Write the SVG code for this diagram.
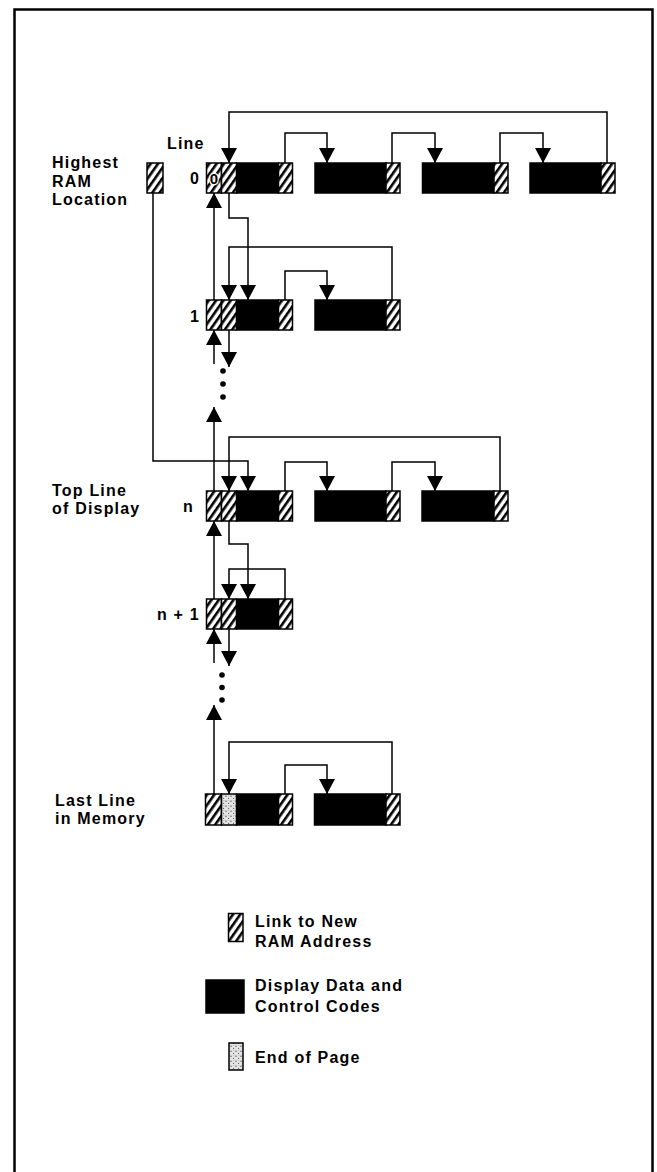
<svg xmlns="http://www.w3.org/2000/svg" width="657" height="1172" viewBox="0 0 657 1172">
<style>
.lbl{font-family:"Liberation Sans",Arial,Helvetica,sans-serif;font-weight:bold;font-size:16px;letter-spacing:1.2px;fill:#000}
.con{fill:none;stroke:#000;stroke-width:1.5;marker-end:url(#ah)}
.ln{fill:none;stroke:#000;stroke-width:1.5}
.hat{fill:url(#hatch);stroke:#000;stroke-width:1.5}
.blk{fill:#000;stroke:#000;stroke-width:1.5}
.dot{fill:url(#stip);stroke:#000;stroke-width:1.5}
</style>
<defs>
<pattern id="hatch" patternUnits="userSpaceOnUse" width="6" height="6" patternTransform="rotate(35)">
<rect width="6" height="6" fill="#fff"/>
<rect width="2.6" height="6" fill="#000"/>
</pattern>
<pattern id="stip" patternUnits="userSpaceOnUse" width="5" height="5">
<rect width="5" height="5" fill="#e4e4e4"/>
<circle cx="1" cy="1.2" r="0.6" fill="#333"/>
<circle cx="3.6" cy="3.4" r="0.55" fill="#555"/>
<circle cx="3.9" cy="0.6" r="0.4" fill="#666"/>
</pattern>
<marker id="ah" viewBox="0 0 15 16" refX="15" refY="8" markerWidth="15" markerHeight="16" markerUnits="userSpaceOnUse" orient="auto">
<path d="M0,0 L15,8 L0,16 z" fill="#000"/>
</marker>
</defs>
<rect x="14.5" y="9.5" width="638" height="1200" fill="none" stroke="#000" stroke-width="2.5"/>

<g id="connectors">
<!-- line 0 -->
<path class="con" d="M607,163 V112 H229 V163"/>
<path class="con" d="M285,163 V133 H327 V163"/>
<path class="con" d="M392,163 V133 H435 V163"/>
<path class="con" d="M500,163 V133 H543 V163"/>
<path class="con" d="M229,193 V218 H248 V300"/>
<path class="con" d="M214,300 V193"/>
<!-- line 1 -->
<path class="con" d="M392,300 V247 H229 V300"/>
<path class="con" d="M285,300 V271 H327 V300"/>
<path class="con" d="M214,364 V330"/>
<path class="con" d="M229,330 V367"/>
<path class="con" d="M214,491 V407"/>
<!-- highest RAM -->
<path class="con" d="M153,193 V461 H248 V491"/>
<!-- line n -->
<path class="con" d="M500,491 V437 H229 V491"/>
<path class="con" d="M285,491 V462 H327 V491"/>
<path class="con" d="M392,491 V462 H435 V491"/>
<path class="con" d="M214,599 V521"/>
<path class="con" d="M229,521 V544 H248 V599"/>
<!-- line n+1 -->
<path class="con" d="M285,599 V569 H229 V599"/>
<path class="con" d="M214,663 V629"/>
<path class="con" d="M229,629 V666"/>
<path class="con" d="M214,794 V705"/>
<!-- last line -->
<path class="con" d="M392,794 V742 H229 V794"/>
<path class="con" d="M285,794 V765 H327 V794"/>
<!-- dots -->
<circle cx="223" cy="371" r="2.8"/>
<circle cx="223" cy="384" r="2.8"/>
<circle cx="223" cy="397" r="2.8"/>
<circle cx="222" cy="675" r="2.8"/>
<circle cx="222" cy="687.5" r="2.8"/>
<circle cx="222" cy="700" r="2.8"/>
</g>

<g id="highestRAM">
<rect class="hat" x="147" y="163" width="16" height="30"/>
</g>

<g id="line0">
<rect class="blk" x="236.5" y="163" width="42" height="30"/>
<rect class="hat" x="206.5" y="163" width="15" height="30"/>
<rect class="hat" x="221.5" y="163" width="15" height="30"/>
<rect class="hat" x="278.5" y="163" width="14" height="30"/>
<text x="214" y="184" text-anchor="middle" class="lbl" style="font-size:15px;letter-spacing:0;stroke:#fff;stroke-width:2.5;paint-order:stroke">0</text>
<rect class="blk" x="315" y="163" width="71" height="30"/>
<rect class="hat" x="386" y="163" width="14" height="30"/>
<rect class="blk" x="422.5" y="163" width="71.5" height="30"/>
<rect class="hat" x="494" y="163" width="14" height="30"/>
<rect class="blk" x="530" y="163" width="71" height="30"/>
<rect class="hat" x="601" y="163" width="14" height="30"/>
</g>

<g id="line1">
<rect class="blk" x="236.5" y="300" width="42" height="30"/>
<rect class="hat" x="206.5" y="300" width="15" height="30"/>
<rect class="hat" x="221.5" y="300" width="15" height="30"/>
<rect class="hat" x="278.5" y="300" width="14" height="30"/>
<rect class="blk" x="315" y="300" width="71" height="30"/>
<rect class="hat" x="386" y="300" width="14" height="30"/>
</g>

<g id="lineN">
<rect class="blk" x="236.5" y="491" width="42" height="30"/>
<rect class="hat" x="206.5" y="491" width="15" height="30"/>
<rect class="hat" x="221.5" y="491" width="15" height="30"/>
<rect class="hat" x="278.5" y="491" width="14" height="30"/>
<rect class="blk" x="315" y="491" width="71" height="30"/>
<rect class="hat" x="386" y="491" width="14" height="30"/>
<rect class="blk" x="422" y="491" width="72" height="30"/>
<rect class="hat" x="494" y="491" width="14" height="30"/>
</g>

<g id="lineN1">
<rect class="blk" x="236.5" y="599" width="42" height="30"/>
<rect class="hat" x="206.5" y="599" width="15" height="30"/>
<rect class="hat" x="221.5" y="599" width="15" height="30"/>
<rect class="hat" x="278.5" y="599" width="14" height="30"/>
</g>

<g id="lastLine">
<rect class="blk" x="236.5" y="794" width="42" height="31"/>
<rect class="hat" x="205.5" y="794" width="16" height="31"/>
<rect class="dot" x="221.5" y="794" width="15" height="31"/>
<rect class="hat" x="278.5" y="794" width="14" height="31"/>
<rect class="blk" x="314.5" y="794" width="71.5" height="31"/>
<rect class="hat" x="386" y="794" width="14" height="31"/>
</g>

<g id="labels">
<text class="lbl" x="52" y="168">Highest</text>
<text class="lbl" x="52" y="186.5">RAM</text>
<text class="lbl" x="52" y="205">Location</text>
<text class="lbl" x="167" y="149">Line</text>
<text class="lbl" x="190" y="184">0</text>
<text class="lbl" x="190" y="322">1</text>
<text class="lbl" x="52" y="496">Top Line</text>
<text class="lbl" x="52" y="514">of Display</text>
<text class="lbl" x="183" y="512">n</text>
<text class="lbl" x="157" y="620">n + 1</text>
<text class="lbl" x="55" y="806">Last Line</text>
<text class="lbl" x="55" y="823.5">in Memory</text>
</g>

<g id="legend">
<rect class="hat" x="228.5" y="913.5" width="14.5" height="28"/>
<text class="lbl" x="255" y="927">Link to New</text>
<text class="lbl" x="255" y="947">RAM Address</text>
<rect class="blk" x="206" y="980" width="38" height="33"/>
<text class="lbl" x="255" y="991">Display Data and</text>
<text class="lbl" x="255" y="1011.5">Control Codes</text>
<rect class="dot" x="229" y="1043" width="14" height="27"/>
<text class="lbl" x="255" y="1063">End of Page</text>
</g>
</svg>
